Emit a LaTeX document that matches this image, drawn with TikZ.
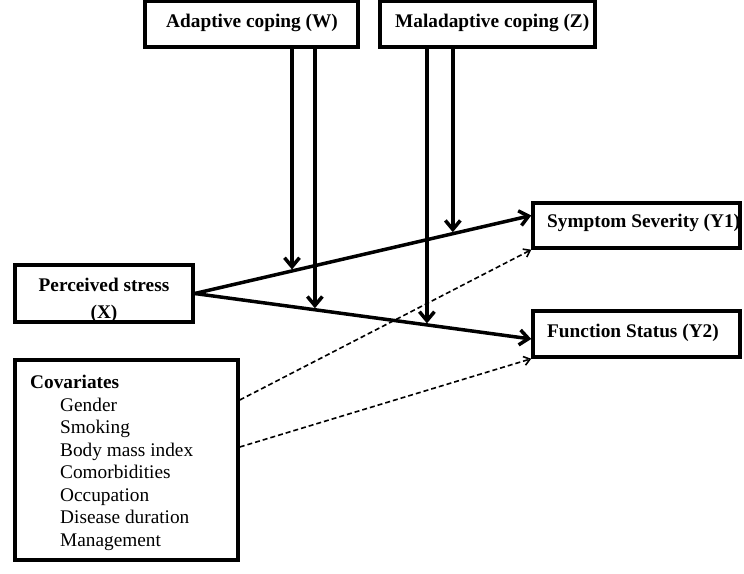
\documentclass[tikz,border=0pt]{standalone}
\usepackage{fontspec}
\setmainfont{Liberation Serif}
\usetikzlibrary{arrows.meta}
\usetikzlibrary{calc}

\begin{document}
\begin{tikzpicture}[x=1pt,y=-1pt]
            \tikzstyle{box} = [draw=black, line width=3.5pt, fill=white, inner sep=0pt]
            \tikzstyle{lbl} = [inner sep=0pt, font=\fontsize{19.3}{22.5}\selectfont\bfseries]
            \tikzstyle{txt} = [inner sep=0pt, font=\fontsize{19.3}{22.5}\selectfont]
            \tikzstyle{effect} = [line width=3.5pt, -{Straight Barb[length=9pt,width=15pt]}]
            \tikzstyle{covline} = [line width=1.6pt, dash pattern=on 5pt off 3pt, -{Straight Barb[length=6pt,width=9pt]}]
            \useasboundingbox (0,0) rectangle (744,573);
            % boxes
            \node[box, minimum width=213pt, minimum height=46pt] (W) at (251.5,24) {};
            \node[box, minimum width=215pt, minimum height=46pt] (Z) at (487.5,24) {};
            \node[box, minimum width=178pt, minimum height=57pt] (X) at (104,293.5) {};
            \node[box, minimum width=207pt, minimum height=45pt] (Y1) at (636.5,225.5) {};
            \node[box, minimum width=207pt, minimum height=46pt] (Y2) at (636.5,334) {};
            \node[box, minimum width=223pt, minimum height=200pt] (C) at (126.5,460) {};
            % labels
            \node[lbl, anchor=base] (Wt) at (252,27) {Adaptive coping (W)};
            \node[lbl, anchor=base west] (Zt) at (395,27) {Maladaptive coping (Z)};
            \node[lbl, anchor=base] (Xa) at (104,291) {Perceived stress};
            \node[lbl, anchor=base] (Xb) at (104,318) {(X)};
            \node[lbl, anchor=base west] (Y1t) at (547,227) {Symptom Severity (Y1)};
            \node[lbl, anchor=base west] (Y2t) at (547,337) {Function Status (Y2)};
            \node[lbl, anchor=base west] (Ct) at (30,388.5) {Covariates};
            \foreach \cv [count=\i] in {Gender, Smoking, Body mass index, Comorbidities, Occupation, Disease duration, Management}
                \node[txt, anchor=base west] (cov\i) at (60,388.5+22.5*\i) {\cv};
            % main effects
            \draw[effect] (X.east) -- ([yshift=10pt]Y1.west) coordinate[pos=0.289] (wa) coordinate[pos=0.767] (zb);
            \draw[effect] (X.east) -- ([yshift=-5pt]Y2.west) coordinate[pos=0.357] (wb) coordinate[pos=0.690] (za);
            % moderators
            \draw[effect, shorten >=1.5pt] (W.south -| wa) -- (wa);
            \draw[effect, shorten >=1.5pt] (W.south -| wb) -- (wb);
            \draw[effect, shorten >=1.5pt] (Z.south -| za) -- (za);
            \draw[effect, shorten >=1.5pt] (Z.south -| zb) -- (zb);
            % covariates
            \draw[covline] ([yshift=60pt]C.east) -- (Y1.south west);
            \draw[covline] ([yshift=13pt]C.east) -- (Y2.south west);
        \end{tikzpicture}
\end{document}
